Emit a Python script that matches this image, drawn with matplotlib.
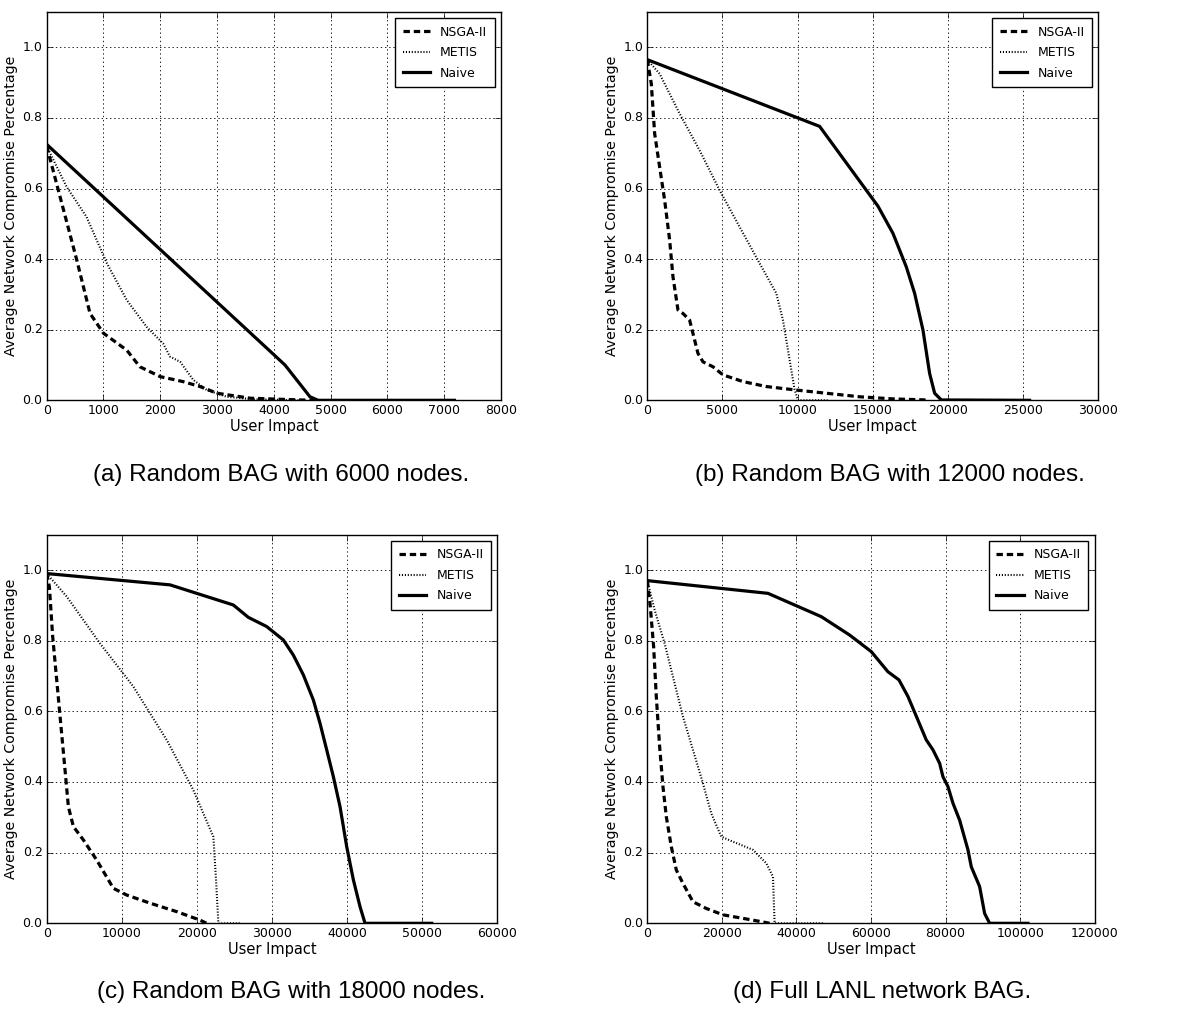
import matplotlib
matplotlib.use("Agg")
import matplotlib.pyplot as plt

plt.style.use("classic")
plt.rcParams["figure.facecolor"] = "white"
plt.rcParams["savefig.facecolor"] = "white"
plt.rcParams["font.family"] = ["DejaVu Sans"]
plt.rcParams["lines.scale_dashes"] = False

# ---------------- data ----------------
# (a) Random BAG with 6000 nodes
a_naive_x = [0, 4196, 4636, 4780, 7180]
a_naive_y = [0.725, 0.10, 0.01, 0.0, 0.0]
a_nsga_x = [0, 205, 530, 763, 1000, 1410, 1640, 2000, 2400, 2700, 3000, 3580, 4460, 4800]
a_nsga_y = [0.72, 0.595, 0.397, 0.246, 0.19, 0.142, 0.095, 0.067, 0.053, 0.039, 0.02, 0.006, 0.001, 0.0]
a_metis_x = [0, 350, 700, 1060, 1410, 1760, 2050, 2170, 2350, 2580, 2820, 3170, 3640, 4500]
a_metis_y = [0.72, 0.605, 0.52, 0.388, 0.284, 0.208, 0.161, 0.124, 0.109, 0.058, 0.029, 0.01, 0.003, 0.0]

# (b) Random BAG with 12000 nodes
b_naive_x = [0, 11463, 15343, 16341, 17228, 17783, 18337, 18780, 19113, 19557, 25432]
b_naive_y = [0.965, 0.776, 0.55, 0.473, 0.378, 0.303, 0.199, 0.076, 0.02, 0.001, 0.0]
b_nsga_x = [0, 266, 488, 820, 1153, 1486, 1707, 2040, 2373, 2816, 3370, 3703, 4368, 5033,
            6364, 7916, 9911, 11906, 14124, 16341, 18559]
b_nsga_y = [0.965, 0.897, 0.756, 0.661, 0.567, 0.454, 0.35, 0.256, 0.246, 0.227, 0.133, 0.109,
            0.095, 0.072, 0.053, 0.039, 0.029, 0.02, 0.01, 0.004, 0.001]
b_metis_x = [0, 820, 2151, 3481, 4812, 6142, 7472, 8581, 9024, 9468, 9800, 10022, 12000]
b_metis_y = [0.965, 0.925, 0.812, 0.708, 0.595, 0.491, 0.388, 0.303, 0.227, 0.114, 0.03, 0.0, 0.0]

# (c) Random BAG with 18000 nodes
c_naive_x = [0, 16423, 19973, 24856, 26853, 29294, 31513, 32845, 34176, 35508, 36395, 37283,
             38171, 39059, 39947, 40834, 41722, 42388, 51265]
c_naive_y = [0.99, 0.958, 0.934, 0.901, 0.866, 0.84, 0.802, 0.759, 0.703, 0.632, 0.566, 0.491,
             0.415, 0.33, 0.217, 0.123, 0.047, 0.0, 0.0]
c_nsga_x = [0, 355, 799, 1332, 1864, 2441, 2885, 3551, 4882, 6658, 8877, 10652, 13759, 17310,
            20417, 21305]
c_nsga_y = [0.99, 0.953, 0.811, 0.689, 0.566, 0.434, 0.33, 0.274, 0.236, 0.179, 0.099, 0.08,
            0.057, 0.033, 0.009, 0.0]
c_metis_x = [0, 2663, 7102, 11540, 15979, 19529, 22192, 22547, 22858, 25743]
c_metis_y = [0.99, 0.925, 0.792, 0.67, 0.519, 0.377, 0.245, 0.123, 0.0, 0.0]

# (d) Full LANL network BAG
d_naive_x = [0, 32365, 46667, 54266, 60077, 64548, 67498, 69912, 72593, 74829, 76617, 78405,
             79299, 80640, 81981, 83769, 86004, 86898, 89133, 90474, 91815, 102097]
d_naive_y = [0.97, 0.934, 0.868, 0.816, 0.769, 0.712, 0.689, 0.642, 0.575, 0.519, 0.491, 0.453,
             0.415, 0.387, 0.34, 0.292, 0.208, 0.16, 0.104, 0.028, 0.0, 0.0]
d_nsga_x = [0, 805, 1699, 2414, 3308, 4202, 5096, 6437, 7778, 9566, 12248, 15824, 20295, 25660,
            31917, 32811]
d_nsga_y = [0.97, 0.896, 0.783, 0.642, 0.5, 0.387, 0.302, 0.217, 0.151, 0.113, 0.061, 0.042,
            0.024, 0.014, 0.002, 0.0]
d_metis_x = [0, 1967, 4649, 6884, 9566, 12248, 14930, 17165, 19847, 22976, 28340, 31917, 33705,
             33884, 34152, 47117]
d_metis_y = [0.97, 0.887, 0.792, 0.698, 0.585, 0.491, 0.396, 0.311, 0.245, 0.231, 0.208, 0.17,
             0.132, 0.075, 0.0, 0.0]

xmaxes = [8000, 30000, 60000, 120000]
captions = ["(a) Random BAG with 6000 nodes.", "(b) Random BAG with 12000 nodes.",
            "(c) Random BAG with 18000 nodes.", "(d) Full LANL network BAG."]
series_labels = ["NSGA-II", "METIS", "Naive"]
xlabel = "User Impact"
ylabel = "Average Network Compromise Percentage"

panels = [
    (a_nsga_x, a_nsga_y, a_metis_x, a_metis_y, a_naive_x, a_naive_y),
    (b_nsga_x, b_nsga_y, b_metis_x, b_metis_y, b_naive_x, b_naive_y),
    (c_nsga_x, c_nsga_y, c_metis_x, c_metis_y, c_naive_x, c_naive_y),
    (d_nsga_x, d_nsga_y, d_metis_x, d_metis_y, d_naive_x, d_naive_y),
]

W, H = 1186, 1009
fig = plt.figure(figsize=(W / 100, H / 100), dpi=100)

rects_px = [(46.7, 12, 501, 400.3), (647.3, 12, 1098.3, 400.3),
            (46.7, 534.7, 497.3, 923.3), (647.3, 534.7, 1094.7, 923.3)]
cap_pos = [(281, 475), (890, 475), (291, 992), (882, 992)]

dash_style = (0, (4.6, 2.8))
dot_style = (0, (0.8, 1.3))

for i, (rect, data) in enumerate(zip(rects_px, panels)):
    l, t, r, b = rect
    ax = fig.add_axes([l / W, 1 - b / H, (r - l) / W, (b - t) / H])
    nx, ny, mx, my, vx, vy = data
    ax.plot(nx, ny, color="black", linestyle=dash_style, linewidth=2.3, label=series_labels[0])
    ax.plot(mx, my, color="black", linestyle=dot_style, linewidth=1.5, label=series_labels[1])
    ax.plot(vx, vy, color="black", linestyle="-", linewidth=2.3, label=series_labels[2])
    ax.set_xlim(0, xmaxes[i])
    ax.set_ylim(0, 1.1)
    ax.set_yticks([0.0, 0.2, 0.4, 0.6, 0.8, 1.0])
    ax.grid(True, color="black", linestyle=(0, (1, 2)), linewidth=0.6)
    ax.tick_params(labelsize=9, direction="in", top=True, right=True, pad=3)
    ax.set_xlabel(xlabel, fontsize=10.5, labelpad=1)
    ax.set_ylabel(ylabel, fontsize=10.2, labelpad=3)
    leg = ax.legend(loc="upper right", fontsize=9, borderaxespad=0.5, handlelength=2.2,
                    labelspacing=0.6, borderpad=0.6, fancybox=False, framealpha=1,
                    numpoints=1)
    leg.get_frame().set_edgecolor("black")
    fig.text(cap_pos[i][0] / W, 1 - cap_pos[i][1] / H, captions[i], ha="center", va="center",
             fontsize=17.5, family="Liberation Sans")

fig.savefig("out.png", dpi=100)
